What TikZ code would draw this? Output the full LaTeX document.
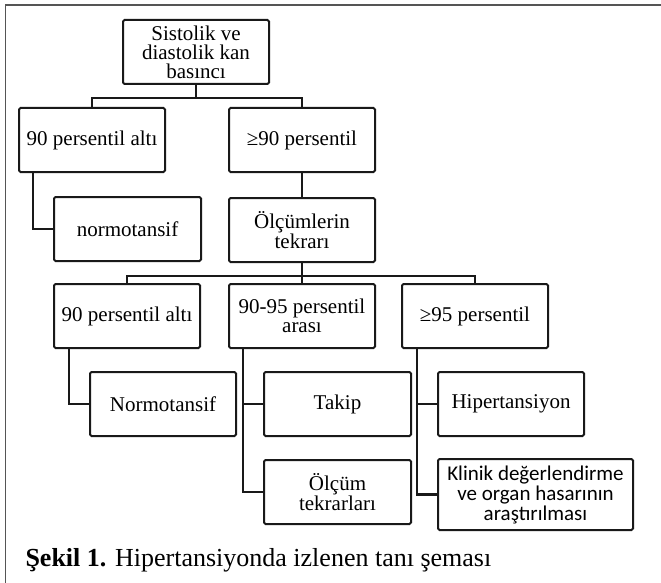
\documentclass[tikz,border=0pt]{standalone}
\usepackage{fontspec}
\setmainfont{Liberation Serif}
\newfontfamily\klinikfont{Carlito}
\usetikzlibrary{positioning}
\definecolor{cercevegri}{RGB}{85,85,85}
\definecolor{cizgi}{RGB}{25,25,25}

\begin{document}
\begin{tikzpicture}[x=1pt, y=-1pt,
        kutu/.style={rectangle, draw=cizgi, line width=2pt, rounded corners=1.5pt, anchor=north west, minimum width=146pt, minimum height=64pt, align=center, inner sep=2pt, font=\fontsize{21}{19}\selectfont},
        klinikkutu/.style={kutu, minimum width=195pt, minimum height=71pt, font=\klinikfont\fontsize{21}{20}\selectfont},
        hat/.style={draw=cizgi, line width=2.2pt},
        cerceve/.style={draw=cercevegri, line width=1.6pt}
    ]
        \useasboundingbox (0,0) rectangle (661,583);
        \draw[cerceve] (5.5,583) -- (5.5,5) -- (661,5);
        % ust seviye
        \node[kutu] (kanbasinci) at (122,19) {Sistolik ve\\ diastolik kan\\ basıncı};
        \node[kutu] (alt) at (18,107) {90 persentil altı};
        \node[kutu] (ust) at (228,107) {≥90 persentil};
        \node[kutu, minimum width=147pt] (normo) at (53,196) {normotansif};
        \node[kutu, below=24pt of ust] (tekrar) {Ölçümlerin\\ tekrarı};
        % alt seviye
        \node[kutu] (alt2) at (53,283) {90 persentil altı};
        \node[kutu] (ara) at (228,283) {90-95 persentil\\ arası};
        \node[kutu] (yuksek) at (401,283) {≥95 persentil};
        \node[kutu] (normo2) at (89,371) {Normotansif};
        \node[kutu, minimum width=147pt] (takip) at (263,371) {Takip};
        \node[kutu] (hiper) at (437,371) {Hipertansiyon};
        \node[kutu, minimum width=147pt] (olcum) at (263,459) {Ölçüm\\ tekrarları};
        \node[klinikkutu] (klinik) at (437,458) {Klinik değerlendirme\\ ve organ hasarının\\ araştırılması};
        \draw[hat] (kanbasinci.south) -- ++(0,13) -| (alt.north);
        \draw[hat] (kanbasinci.south) -- ++(0,13) -| (ust.north);
        \draw[hat] ([xshift=15pt]alt.south west) |- (normo.west);
        \draw[hat] (ust) -- (tekrar);
        \draw[hat] (tekrar.south) -- ++(0,13) -| (alt2.north);
        \draw[hat] (tekrar.south) -- (ara.north);
        \draw[hat] (tekrar.south) -- ++(0,13) -| (yuksek.north);
        \draw[hat] ([xshift=16pt]alt2.south west) |- (normo2.west);
        \draw[hat] ([xshift=15pt]ara.south west) |- (takip.west);
        \draw[hat] ([xshift=15pt]ara.south west) |- (olcum.west);
        \draw[hat] ([xshift=16pt]yuksek.south west) |- (hiper.west);
        \draw[hat] ([xshift=16pt]yuksek.south west) |- (klinik.west);
        \node[anchor=base west, font=\fontsize{26}{30}\selectfont] (baslik) at (22,566) {\textbf{Şekil 1.} Hipertansiyonda izlenen tanı şeması};
    \end{tikzpicture}
\end{document}
